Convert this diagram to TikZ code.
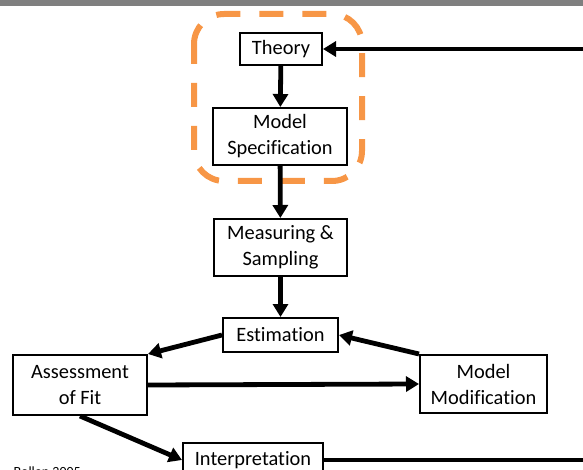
\documentclass[tikz,border=0pt]{standalone}
\usepackage{fontspec}
\setmainfont[Ligatures={CommonOff,ContextualOff},Contextuals=AlternateOff]{Carlito}
\usepackage{tikz}
\usetikzlibrary{arrows.meta,positioning}
\definecolor{semInk}{HTML}{000000}
\definecolor{semFrame}{HTML}{F79646}
\definecolor{semBar}{HTML}{7F7F7F}
\tikzset{
  sem diagram/.style={font=\fontsize{20.4}{26}\selectfont, text=semInk},
  sem box/.style={draw=semInk, fill=white, line width=2pt,
    align=center, inner sep=2pt},
  sem arrow/.style={-{Triangle[length=13pt,width=15pt]}, draw=semInk,
    line width=4.8pt},
  sem link/.style={draw=semInk, line width=4.8pt},
  sem focus/.style={draw=semFrame, line width=6pt,
    dash pattern=on 24pt off 19pt, dash phase=4pt, rounded corners=30pt},
  sem credit/.style={font=\fontsize{14}{16}\selectfont, text=semInk}
}

\begin{document}
\begin{tikzpicture}[sem diagram,x=1pt,y=-1pt]
\useasboundingbox (0,0) rectangle (583,470);
\fill[semBar] (0,0) rectangle (583,6);

% highlighted first stage
\draw[sem focus] (194,14) rectangle (362,181);

% stages of the modelling process
\node[sem box,minimum width=82pt,minimum height=32pt] (theory) at (281,49) {Theory};
\node[sem box,minimum width=134pt,minimum height=57pt] (spec) at (280,136.5) {Model\\Specification};
\node[sem box,minimum width=133pt,minimum height=57pt] (measure) at (280.5,247.5) {Measuring \&\\Sampling};
\node[sem box,minimum width=115pt,minimum height=34pt] (estim) at (280.5,335) {Estimation};
\node[sem box,minimum width=134pt,minimum height=60pt] (assess) at (80,385) {Assessment\\of Fit};
\node[sem box,minimum width=127pt,minimum height=58pt] (modif) at (483.5,384) {Model\\Modification};
\node[sem box,minimum width=140pt,minimum height=34pt] (interp) at (253,460) {Interpretation};

\coordinate (loop in) at (590,49);
\coordinate (loop out) at (590,460);

\draw[sem arrow] (theory) -- (spec);
\draw[sem arrow] (spec) -- (measure);
\draw[sem arrow] (measure) -- (estim);
\draw[sem arrow] (estim.west) -- (assess.north east);
\draw[sem arrow] (assess.east) -- (modif.west);
\draw[sem arrow] (modif.north west) -- (estim.east);
\draw[sem arrow] (assess.south) -- (interp.west);
\draw[sem link] (interp.east) -- (loop out);
\draw[sem arrow] (loop in) -- (theory.east);

\node[sem credit,anchor=base west] (credit) at (10,476) {Bollen 2005};
\end{tikzpicture}
\end{document}
